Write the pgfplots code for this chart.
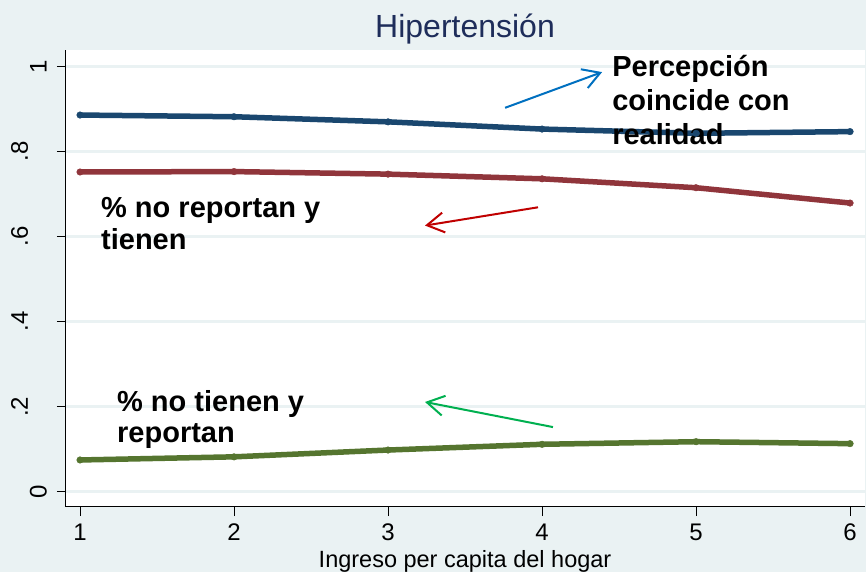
\documentclass[border=0pt]{standalone}
\usepackage{fontspec}
\setmainfont{Liberation Sans}
\usepackage{pgfplots}
\pgfplotsset{compat=1.18}
\usetikzlibrary{arrows.meta}
\definecolor{bgc}{RGB}{234,242,243}
\definecolor{gridc}{RGB}{234,242,243}
\definecolor{navyc}{RGB}{26,71,111}
\definecolor{maroonc}{RGB}{144,53,59}
\definecolor{greenc}{RGB}{85,117,47}
\definecolor{titlec}{RGB}{30,45,90}
\definecolor{arrb}{RGB}{0,112,192}
\definecolor{arrr}{RGB}{192,0,0}
\definecolor{arrg}{RGB}{0,176,80}
\begin{document}
\begin{tikzpicture}
\fill[bgc] (-66pt,-65pt) rectangle (800pt,507pt);
\begin{axis}[
  at={(0pt,0pt)}, anchor=south west,
  scale only axis, width=799pt, height=457pt,
  xmin=0.909, xmax=6.097, ymin=-0.036, ymax=1.039,
  axis background/.style={fill=white},
  axis x line*=bottom, axis y line*=left,
  axis line style={black, line width=1pt, -},
  xtick={1,2,3,4,5,6}, xticklabels={1,2,3,4,5,6},
  ytick={0,0.2,0.4,0.6,0.8,1},
  yticklabels={,,,,,},
  tick align=outside, major tick length=9pt,
  tick style={black, line width=0.8pt},
  ymajorgrids, grid style={gridc, line width=2.5pt},
  ticklabel style={font=\fontsize{24}{28}\selectfont},
  xticklabel shift=4pt,
  clip=false,
]
\addplot[navyc, line width=5.5pt, line join=round, mark=*, mark size=3.3pt, mark options={line width=0.4pt}] coordinates {(1,0.886)(2,0.882)(3,0.870)(4,0.853)(5,0.843)(6,0.847)};
\addplot[maroonc, line width=5.5pt, line join=round, mark=*, mark size=3.3pt, mark options={line width=0.4pt}] coordinates {(1,0.752)(2,0.753)(3,0.747)(4,0.736)(5,0.715)(6,0.679)};
\addplot[greenc, line width=5.5pt, line join=round, mark=*, mark size=3.3pt, mark options={line width=0.4pt}] coordinates {(1,0.0746)(2,0.082)(3,0.098)(4,0.1115)(5,0.1176)(6,0.113)};

% y tick labels (rotated, Stata style)
\node[rotate=90, anchor=base, inner sep=0, font=\fontsize{24}{28}\selectfont] at (axis cs:0.784,0) {0};
\node[rotate=90, anchor=base, inner sep=0, font=\fontsize{24}{28}\selectfont] at (axis cs:0.662,0.2) {.2};
\node[rotate=90, anchor=base, inner sep=0, font=\fontsize{24}{28}\selectfont] at (axis cs:0.662,0.4) {.4};
\node[rotate=90, anchor=base, inner sep=0, font=\fontsize{24}{28}\selectfont] at (axis cs:0.662,0.6) {.6};
\node[rotate=90, anchor=base, inner sep=0, font=\fontsize{24}{28}\selectfont] at (axis cs:0.662,0.8) {.8};
\node[rotate=90, anchor=base, inner sep=0, font=\fontsize{24}{28}\selectfont] at (axis cs:0.784,1) {1};

\node[anchor=base west, inner sep=0, font=\bfseries\fontsize{29}{33}\selectfont] at (axis cs:4.455,0.977) {Percepción};
\node[anchor=base west, inner sep=0, font=\bfseries\fontsize{29}{33}\selectfont] at (axis cs:4.455,0.896) {coincide con};
\node[anchor=base west, inner sep=0, font=\bfseries\fontsize{29}{33}\selectfont] at (axis cs:4.455,0.817) {realidad};
\node[anchor=base west, inner sep=0, font=\bfseries\fontsize{29}{33}\selectfont] at (axis cs:1.136,0.646) {\% no reportan y};
\node[anchor=base west, inner sep=0, font=\bfseries\fontsize{29}{33}\selectfont] at (axis cs:1.136,0.569) {tienen};
\node[anchor=base west, inner sep=0, font=\bfseries\fontsize{29}{33}\selectfont] at (axis cs:1.240,0.188) {\% no tienen y};
\node[anchor=base west, inner sep=0, font=\bfseries\fontsize{29}{33}\selectfont] at (axis cs:1.240,0.1146) {reportan};

\draw[arrb, line width=2pt, -{Straight Barb[length=17pt,width=20pt]}] (axis cs:3.760,0.903) -- (axis cs:4.390,0.987);
\draw[arrr, line width=2pt, -{Straight Barb[length=17pt,width=20pt]}] (axis cs:3.974,0.669) -- (axis cs:3.240,0.626);
\draw[arrg, line width=2pt, -{Straight Barb[length=17pt,width=20pt]}] (axis cs:4.071,0.152) -- (axis cs:3.240,0.211);

\node[anchor=base, inner sep=0, font=\fontsize{32}{36}\selectfont, text=titlec] at (axis cs:3.5,1.0675) {Hipertensión};
\node[anchor=base, inner sep=0, font=\fontsize{23.5}{27}\selectfont] at (axis cs:3.5,-0.178) {Ingreso per capita del hogar};
\end{axis}
\pgfresetboundingbox
\useasboundingbox (-66pt,-65pt) rectangle (800pt,507pt);
\end{tikzpicture}
\end{document}
